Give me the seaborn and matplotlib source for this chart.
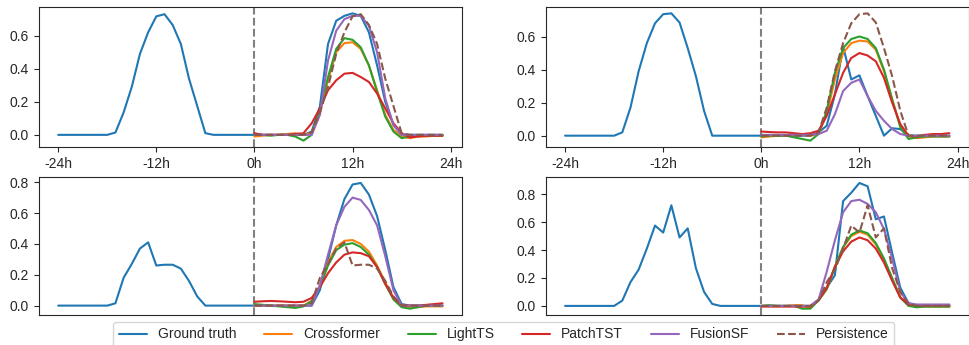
import numpy as np
import pandas as pd
import matplotlib
matplotlib.use("Agg")
import matplotlib.pyplot as plt
import seaborn as sns

sns.set_theme(style="ticks")
plt.rcParams['font.family'] = ['Liberation Sans', 'DejaVu Sans']
plt.rcParams['font.size'] = 10

hours_hist = list(range(-24, 24))
hours_pred = list(range(0, 24))

# ---------------- Panel A (top-left) ----------------
gt_a = [0, 0, 0, 0, 0, 0, 0.0, 0.014, 0.135, 0.29, 0.49, 0.62, 0.717, 0.73, 0.665, 0.55, 0.34, 0.175, 0.01, 0, 0, 0, 0, 0,
        0, 0, 0, 0, 0, 0, 0, 0.02, 0.17, 0.55, 0.69, 0.72, 0.735, 0.72, 0.62, 0.42, 0.20, 0.06, 0.0, 0, 0, 0, 0, 0]
cross_a = [-0.01, -0.005, 0.0, 0.0, 0.005, 0.01, 0.0, 0.01, 0.13, 0.33, 0.50, 0.555, 0.56, 0.52, 0.42, 0.27, 0.12, 0.03, -0.01, -0.02, -0.01, -0.01, -0.005, -0.005]
light_a = [0.0, 0.0, -0.005, 0.0, 0.0, -0.01, -0.035, 0.0, 0.15, 0.35, 0.52, 0.585, 0.575, 0.53, 0.42, 0.26, 0.11, 0.02, -0.02, -0.01, -0.005, -0.005, -0.005, -0.005]
patch_a = [0.01, 0.0, 0.0, 0.0, 0.0, 0.005, 0.01, 0.07, 0.16, 0.27, 0.33, 0.37, 0.375, 0.35, 0.32, 0.25, 0.16, 0.07, 0.01, -0.015, -0.01, -0.005, -0.005, -0.005]
fusion_a = [0.0, 0.0, 0.0, 0.0, 0.0, 0.0, 0.0, 0.0, 0.12, 0.45, 0.63, 0.70, 0.72, 0.72, 0.66, 0.50, 0.22, 0.06, 0.0, 0.0, 0.0, 0.0, 0.0, 0.0]
persist_a = [0, 0, 0, 0, 0, 0, 0.0, 0.014, 0.135, 0.29, 0.49, 0.62, 0.717, 0.73, 0.665, 0.55, 0.34, 0.175, 0.01, 0, 0, 0, 0, 0]

# ---------------- Panel B (top-right) ----------------
gt_b = [0, 0, 0, 0, 0, 0, 0.0, 0.02, 0.17, 0.39, 0.56, 0.68, 0.735, 0.74, 0.685, 0.53, 0.36, 0.15, 0.0, 0, 0, 0, 0, 0,
        0, 0, 0, 0, 0, 0, 0, 0.02, 0.06, 0.25, 0.54, 0.34, 0.365, 0.24, 0.12, 0.0, 0.045, 0.04, 0.0, 0, 0, 0, 0, 0]
cross_b = [-0.01, -0.005, 0.0, 0.0, 0.005, 0.005, 0.0, 0.01, 0.13, 0.34, 0.50, 0.56, 0.575, 0.57, 0.52, 0.39, 0.22, 0.06, -0.005, -0.015, -0.01, -0.005, -0.005, -0.005]
light_b = [-0.005, 0.0, 0.0, 0.0, -0.01, -0.02, -0.03, 0.01, 0.15, 0.38, 0.53, 0.585, 0.60, 0.585, 0.53, 0.40, 0.22, 0.05, -0.02, -0.01, -0.005, -0.005, -0.005, -0.005]
patch_b = [0.025, 0.022, 0.02, 0.02, 0.015, 0.01, 0.015, 0.03, 0.12, 0.25, 0.38, 0.47, 0.50, 0.485, 0.45, 0.35, 0.20, 0.07, 0.0, -0.005, 0.005, 0.01, 0.01, 0.015]
fusion_b = [0.005, 0.005, 0.005, 0.005, 0.005, 0.005, 0.005, 0.01, 0.03, 0.13, 0.27, 0.32, 0.34, 0.24, 0.15, 0.09, 0.04, 0.01, 0.0, 0.0, 0.0, 0.0, 0.0, 0.0]
persist_b = [0, 0, 0, 0, 0, 0, 0.0, 0.02, 0.17, 0.39, 0.56, 0.68, 0.735, 0.74, 0.685, 0.53, 0.36, 0.15, 0.0, 0, 0, 0, 0, 0]

# ---------------- Panel C (bottom-left) ----------------
gt_c = [0, 0, 0, 0, 0, 0, 0.0, 0.015, 0.18, 0.27, 0.37, 0.41, 0.26, 0.265, 0.265, 0.24, 0.16, 0.06, 0.0, 0, 0, 0, 0, 0,
        0, 0, 0, 0, 0, 0, 0, 0.0, 0.10, 0.30, 0.52, 0.69, 0.785, 0.795, 0.72, 0.58, 0.36, 0.12, 0.01, 0, 0, 0, 0, 0]
cross_c = [0.0, 0.0, 0.0, 0.0, 0.0, 0.0, 0.0, 0.03, 0.13, 0.28, 0.38, 0.42, 0.425, 0.40, 0.35, 0.26, 0.15, 0.05, 0.0, -0.01, -0.01, -0.005, -0.005, -0.005]
light_c = [0.01, 0.005, 0.0, -0.005, -0.01, -0.015, -0.005, 0.03, 0.12, 0.26, 0.36, 0.395, 0.405, 0.38, 0.33, 0.25, 0.14, 0.04, -0.01, -0.02, -0.01, 0.0, 0.0, 0.0]
patch_c = [0.025, 0.028, 0.03, 0.028, 0.025, 0.022, 0.025, 0.05, 0.12, 0.21, 0.28, 0.33, 0.345, 0.34, 0.32, 0.25, 0.14, 0.05, 0.005, 0.0, 0.0, 0.005, 0.01, 0.015]
fusion_c = [0.0, 0.0, 0.0, 0.0, 0.0, 0.0, 0.0, 0.0, 0.13, 0.33, 0.52, 0.64, 0.70, 0.685, 0.62, 0.52, 0.32, 0.10, 0.0, 0.0, 0.0, 0.0, 0.0, 0.0]
persist_c = [0, 0, 0, 0, 0, 0, 0.0, 0.015, 0.18, 0.27, 0.37, 0.41, 0.26, 0.265, 0.265, 0.24, 0.16, 0.06, 0.0, 0, 0, 0, 0, 0]

# ---------------- Panel D (bottom-right) ----------------
gt_d = [0, 0, 0, 0, 0, 0, 0.0, 0.038, 0.17, 0.26, 0.41, 0.575, 0.525, 0.72, 0.49, 0.555, 0.27, 0.10, 0.014, 0, 0, 0, 0, 0,
        0, 0, 0, 0, 0, 0, 0, 0.045, 0.13, 0.22, 0.75, 0.81, 0.88, 0.856, 0.62, 0.64, 0.38, 0.13, 0.02, 0, 0, 0, 0, 0]
cross_d = [0.0, 0.0, 0.0, 0.0, 0.005, 0.005, -0.01, 0.04, 0.12, 0.28, 0.42, 0.50, 0.53, 0.51, 0.44, 0.33, 0.19, 0.06, 0.01, -0.005, -0.005, -0.005, -0.005, -0.005]
light_d = [0.0, 0.005, 0.0, 0.0, 0.0, -0.02, -0.02, 0.04, 0.12, 0.28, 0.42, 0.51, 0.54, 0.52, 0.45, 0.34, 0.20, 0.06, 0.0, -0.01, -0.005, -0.005, -0.005, -0.005]
patch_d = [-0.005, -0.005, -0.005, -0.005, -0.005, -0.005, -0.005, 0.04, 0.13, 0.28, 0.39, 0.46, 0.49, 0.47, 0.41, 0.31, 0.18, 0.06, 0.01, 0.005, 0.005, 0.005, 0.005, 0.005]
fusion_d = [0.0, 0.0, 0.0, 0.0, 0.0, 0.0, 0.0, 0.045, 0.245, 0.47, 0.67, 0.75, 0.76, 0.73, 0.67, 0.55, 0.34, 0.10, 0.02, 0.01, 0.01, 0.01, 0.01, 0.01]
persist_d = [0, 0, 0, 0, 0, 0, 0.0, 0.038, 0.17, 0.26, 0.41, 0.575, 0.525, 0.72, 0.49, 0.555, 0.27, 0.10, 0.014, 0, 0, 0, 0, 0]

panels = [
    (gt_a, cross_a, light_a, patch_a, fusion_a, persist_a),
    (gt_b, cross_b, light_b, patch_b, fusion_b, persist_b),
    (gt_c, cross_c, light_c, patch_c, fusion_c, persist_c),
    (gt_d, cross_d, light_d, patch_d, fusion_d, persist_d),
]

model_names = ["Crossformer", "LightTS", "PatchTST", "FusionSF"]
palette = sns.color_palette("tab10")
model_colors = [palette[1], palette[2], palette[3], palette[4]]

xtick_vals = [-24, -12, 0, 12, 24]
xtick_labels = ["-24h", "-12h", "0h", "12h", "24h"]

fig = plt.figure(figsize=(9.69, 3.45), dpi=100)
W = 0.4363
positions = [
    (0.0402, 0.5739, W, 0.4058),
    (0.5633, 0.5739, W, 0.4058),
    (0.0402, 0.0870, W, 0.4009),
    (0.5633, 0.0870, W, 0.4009),
]

for i, (pos, data) in enumerate(zip(positions, panels)):
    ax = fig.add_axes(pos)
    gt, cr, lt, pt, fs, ps = data
    ax.axvline(0, color="gray", linestyle="--", linewidth=1.5)
    sns.lineplot(x=hours_hist, y=gt, ax=ax, color=palette[0], linewidth=1.5, label="Ground truth")
    for name, col, vals in zip(model_names, model_colors, [cr, lt, pt, fs]):
        sns.lineplot(x=hours_pred, y=vals, ax=ax, color=col, linewidth=1.5, label=name)
    sns.lineplot(x=hours_pred, y=ps, ax=ax, color=palette[5], linewidth=1.5,
                 linestyle="--", label="Persistence")
    if i < 2:
        ax.set_xticks(xtick_vals)
        ax.set_xticklabels(xtick_labels)
        ax.set_yticks([0.0, 0.2, 0.4, 0.6])
    else:
        ax.set_xticks([])
        ax.set_yticks([0.0, 0.2, 0.4, 0.6, 0.8])
    ax.set_xlim(-26.35, 25.35)
    ax.tick_params(labelsize=10, length=3.5, width=0.8, pad=3.5)
    for s in ax.spines.values():
        s.set_color("#262626")
        s.set_linewidth(0.8)
    handles, labels = ax.get_legend_handles_labels()
    ax.get_legend().remove()

fig.legend(handles, labels, loc="upper center", bbox_to_anchor=(0.52, 0.067),
           ncol=6, frameon=True, fontsize=10, handlelength=2.0,
           columnspacing=2.0, borderaxespad=0.0)

fig.savefig("out.png", dpi=100)
